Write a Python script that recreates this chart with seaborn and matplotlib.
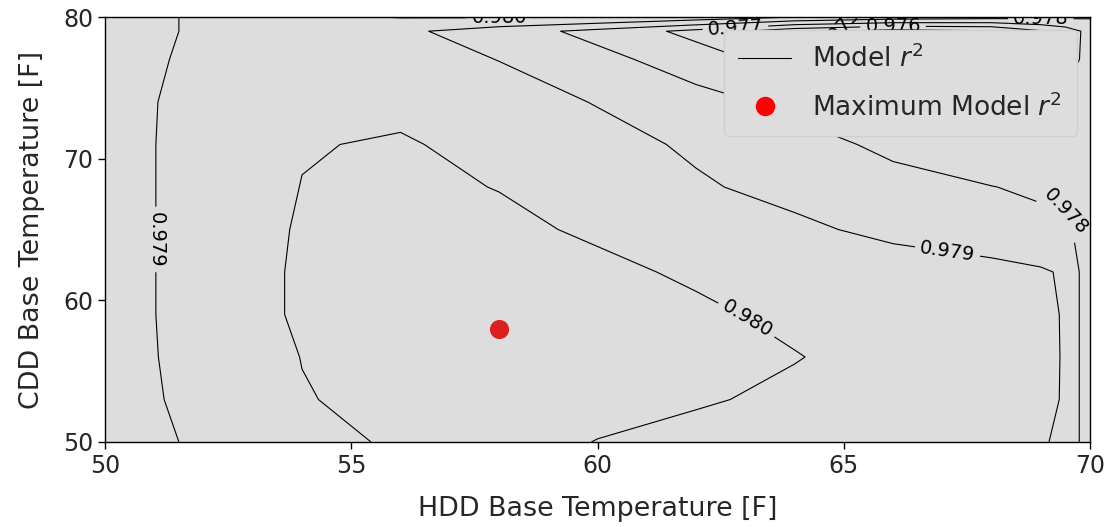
import numpy as np
import matplotlib
matplotlib.use("Agg")
import matplotlib.pyplot as plt
from matplotlib.lines import Line2D
import seaborn as sns

# Grid of base temperatures the regression was evaluated on
hdd_base = [50, 51, 52, 54, 56, 58, 60, 62, 64, 66, 68, 69, 69.5, 70]
cdd_base = [50, 53, 56, 59, 62, 65, 68, 71, 74, 77, 79, 80]

# Model r^2 for each CDD base temperature, across hdd_base
r2_cdd50 = [0.97830, 0.97880, 0.97920, 0.97965, 0.98015, 0.98030, 0.97998, 0.97975, 0.97955, 0.97940, 0.97920, 0.97905, 0.97890, 0.97730]
r2_cdd53 = [0.97850, 0.97895, 0.97920, 0.97995, 0.98025, 0.98040, 0.98025, 0.98008, 0.97985, 0.97965, 0.97945, 0.97930, 0.97890, 0.97730]
r2_cdd56 = [0.97855, 0.97898, 0.97922, 0.98002, 0.98035, 0.98045, 0.98035, 0.98020, 0.98003, 0.97975, 0.97950, 0.97935, 0.97890, 0.97730]
r2_cdd59 = [0.97860, 0.97899, 0.97930, 0.98015, 0.98040, 0.98050, 0.98035, 0.98012, 0.97985, 0.97965, 0.97945, 0.97930, 0.97890, 0.97730]
r2_cdd62 = [0.97860, 0.97899, 0.97930, 0.98015, 0.98035, 0.98035, 0.98015, 0.97990, 0.97970, 0.97950, 0.97930, 0.97910, 0.97890, 0.97730]
r2_cdd65 = [0.97860, 0.97899, 0.97930, 0.98010, 0.98025, 0.98015, 0.97990, 0.97955, 0.97920, 0.97875, 0.97840, 0.97825, 0.97820, 0.97750]
r2_cdd68 = [0.97860, 0.97899, 0.97930, 0.98002, 0.98015, 0.97998, 0.97955, 0.97912, 0.97870, 0.97830, 0.97802, 0.97785, 0.97780, 0.97770]
r2_cdd71 = [0.97860, 0.97899, 0.97930, 0.97995, 0.98008, 0.97975, 0.97935, 0.97885, 0.97835, 0.97780, 0.97730, 0.97730, 0.97745, 0.97760]
r2_cdd74 = [0.97855, 0.97898, 0.97925, 0.97970, 0.97980, 0.97945, 0.97895, 0.97835, 0.97775, 0.97690, 0.97680, 0.97710, 0.97730, 0.97750]
r2_cdd77 = [0.97850, 0.97892, 0.97918, 0.97955, 0.97945, 0.97898, 0.97830, 0.97750, 0.97650, 0.97580, 0.97610, 0.97650, 0.97660, 0.97730]
r2_cdd79 = [0.97845, 0.97885, 0.97915, 0.97950, 0.97920, 0.97850, 0.97770, 0.97670, 0.97530, 0.97460, 0.97490, 0.97590, 0.97650, 0.97730]
r2_cdd80 = [0.97850, 0.97885, 0.97915, 0.97980, 0.98005, 0.98008, 0.98002, 0.97960, 0.97900, 0.97860, 0.97840, 0.97830, 0.97820, 0.97810]

contour_levels = [0.975, 0.976, 0.977, 0.978, 0.979, 0.980]

# Best-fitting pair of base temperatures
best_hdd = 58
best_cdd = 58

sns.set_theme(style="ticks", rc={
    "axes.facecolor": "#dddddd",
    "axes.edgecolor": "black",
    "axes.linewidth": 1.0,
    "xtick.major.size": 5,
    "ytick.major.size": 5,
    "xtick.major.width": 1.0,
    "ytick.major.width": 1.0,
    "xtick.color": "black",
    "ytick.color": "black",
    "text.color": "#262626",
    "axes.labelcolor": "#262626",
})
plt.rcParams["font.family"] = ["DejaVu Sans"]
plt.rcParams["mathtext.fontset"] = "dejavusans"

fig, ax = plt.subplots(figsize=(11.09, 5.27), dpi=100)
fig.subplots_adjust(left=0.0947, right=0.9829, bottom=0.1613, top=0.9677)

H, C = np.meshgrid(hdd_base, cdd_base)
R2 = np.array([r2_cdd50, r2_cdd53, r2_cdd56, r2_cdd59, r2_cdd62, r2_cdd65,
               r2_cdd68, r2_cdd71, r2_cdd74, r2_cdd77, r2_cdd79, r2_cdd80])

cs = ax.contour(H, C, R2, levels=contour_levels, colors="black", linewidths=0.8)
# label spots along each contour (HDD, CDD)
label_spots = [(51.0, 64.3), (67.1, 63.3), (63.0, 58.5), (69.6, 66.4),
               (58.0, 79.97), (62.8, 79.3), (66.0, 79.35), (64.9, 79.02),
               (69.0, 79.85)]
ax.clabel(cs, inline=True, fontsize=14, fmt="%.3f", manual=label_spots)

sns.scatterplot(x=[best_hdd], y=[best_cdd], color="#de1f1f", s=190,
                linewidth=0, ax=ax, zorder=3, legend=False)

ax.set_xlim(50, 70)
ax.set_ylim(50, 80)
ax.set_xticks([50, 55, 60, 65, 70])
ax.set_yticks([50, 60, 70, 80])
ax.tick_params(labelsize=17, labelcolor="#262626")
ax.set_xlabel("HDD Base Temperature [F]", fontsize=19.4, labelpad=13)
ax.set_ylabel("CDD Base Temperature [F]", fontsize=19.4, labelpad=13)

handles = [
    Line2D([], [], color="black", lw=0.8),
    Line2D([], [], marker="o", linestyle="", color="red", markersize=13),
]
leg = ax.legend(handles, ["Model $r^2$", "Maximum Model $r^2$"], loc="upper right",
                fontsize=19, frameon=True, framealpha=1.0, edgecolor="#d0d0d0",
                labelspacing=0.75, borderpad=0.55)
leg.set_zorder(10)

fig.savefig("out.png", dpi=100)
